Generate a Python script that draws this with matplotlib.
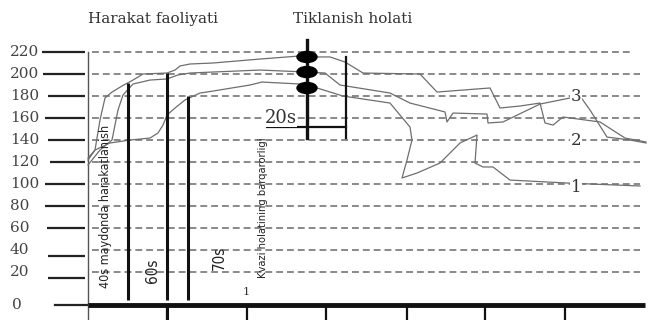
import matplotlib.pyplot as plt
from matplotlib.patches import Ellipse
from matplotlib import font_manager

# y axis levels (values), tick labels on the left
levels = [220, 200, 180, 160, 140, 120, 100, 80, 60, 40, 20]
level_labels = ["220", "200", "180", "160", "140", "120", "100", "80", "60", "40", "20"]
tick_line_vals = [220, 200, 180, 160, 140, 120, 100, 80, 60, 34.5, 14.5]
tick_line_start = [42, 43, 48, 45, 48, 50, 45, 45, 47, 48, 48]
zero_val = -10

# time axis ticks under the baseline
time_ticks = [167, 247, 326, 407, 485, 565]

# three recovery curves (x in time units, y in values)
c1_x = [88, 95, 100, 105, 112, 122, 133, 143, 167, 175, 180, 190, 213, 260, 300, 307, 330, 345, 363,
        420, 437, 490, 500, 520, 540, 545, 553, 563, 600, 625, 646]
c1_y = [121.8, 130.9, 158.2, 178.2, 183.6, 189.1, 194.5, 200, 200.9, 203.6, 207.3, 209.1, 210, 213.6,
        216.4, 215.5, 215.5, 210.9, 200.9, 200, 183.6, 187.3, 169.1, 170.9, 173.6, 155.5, 153.6, 160.9,
        156.4, 141.8, 138.2]

c2_x = [88, 100, 112, 118, 123, 133, 150, 167, 178, 190, 213, 260, 307, 325, 340, 390, 410, 445, 447,
        453, 487, 488, 503, 540, 580, 590, 607, 630, 646]
c2_y = [117.3, 130.9, 140, 167.3, 180.9, 190.9, 194.5, 195.5, 199.1, 200.9, 201.8, 203.6, 201.8, 200.9,
        190, 182.7, 173.6, 165.5, 156.4, 164.5, 163.6, 155.5, 156.4, 172.7, 180, 167.3, 142.7, 140, 137.3]

c3_x = [88, 95, 110, 130, 150, 158, 163, 167, 175, 185, 200, 213, 250, 262, 300, 307, 317, 343, 390,
        400, 410, 412, 407, 402, 417, 440, 460, 477, 475, 483, 493, 510, 567, 640]
c3_y = [123.6, 130.9, 137.3, 140, 141.8, 146.4, 153.6, 162.7, 169.1, 176.4, 182.7, 184.5, 190, 192.7,
        190.9, 187.3, 187.3, 180, 173.6, 162.7, 151.8, 140, 121.8, 105.5, 110, 119.1, 137.3, 144.5,
        119.1, 115.5, 115.5, 103.6, 100.9, 98.2]

curve_labels = ["1", "2", "3"]
curve_label_vals = [97, 140, 180]

# phase bars (x, top value)
bars_x = [128, 167, 188]
bars_top = [191.8, 200.9, 180]
dots_vals = [215.5, 201.8, 187.3]

fig = plt.figure(figsize=(6.48, 3.20), dpi=100)
ax = fig.add_axes([0, 0, 1, 1])
ax.set_xlim(0, 648)
ax.set_ylim(-23.6, 267.27)
ax.axis("off")

serif = "DejaVu Serif"
# condensed sans for the rotated notes
cond = font_manager.FontProperties(family="DejaVu Sans", stretch="condensed")

# dashed levels
for v in levels:
    x_end = 632 if v == 220 else 640
    ax.plot([92, x_end], [v, v], color="#808080", lw=1.3, ls=(0, (3.8, 2.2)), zorder=1)

# left scale
for v, lab, tv, xs in zip(levels, level_labels, tick_line_vals, tick_line_start):
    ax.text(10, v, lab, family=serif, fontsize=11, color="#444", ha="left", va="center")
    ax.plot([xs, 85], [tv, tv], color="#222", lw=1.6, solid_capstyle="butt")
ax.text(12, zero_val, "0", family=serif, fontsize=11, color="#444", ha="left", va="center")
ax.plot([55, 88], [zero_val, zero_val], color="#222", lw=1.6)

# axes frame
ax.plot([88, 88], [220, -23.6], color="#555", lw=1.0)
ax.plot([88, 645], [zero_val, zero_val], color="#111", lw=3.5, solid_capstyle="butt", zorder=4)
for t in time_ticks:
    ax.plot([t, t], [zero_val, -23.6], color="#111", lw=1.6)
ax.text(246, -3, "1", family=serif, fontsize=8, color="#333", ha="center", va="bottom")

# curves
for cx, cy in [(c1_x, c1_y), (c2_x, c2_y), (c3_x, c3_y)]:
    ax.plot(cx, cy, color="#6e6e6e", lw=0.9, zorder=2)

for lab, v in zip(curve_labels, curve_label_vals):
    ax.text(576, v, lab, family=serif, fontsize=12, color="#333", ha="center", va="center",
            bbox=dict(facecolor="white", edgecolor="none", pad=0.5), zorder=3)

# phase bars
for bx, bt in zip(bars_x, bars_top):
    ax.plot([bx, bx], [bt, -5.5], color="#111", lw=2.2, solid_capstyle="butt", zorder=3)
ax.plot([167, 167], [zero_val, -23.6], color="#111", lw=2.2, zorder=3)

# recovery marker
ax.plot([307, 307], [230.9, 141.8], color="#111", lw=2.4, zorder=3)
for dv in dots_vals:
    ax.add_patch(Ellipse((307, dv), 20, 10, color="#000", zorder=4))
ax.plot([346, 346], [215.5, 141.8], color="#111", lw=1.6, zorder=3)
ax.plot([267, 346], [151.8, 151.8], color="#111", lw=1.6, zorder=3)
ax.text(281, 160, "20s", family=serif, fontsize=13, color="#333", ha="center", va="center",
        bbox=dict(facecolor="white", edgecolor="none", pad=0.3), zorder=3)

# headers
ax.text(88, 250, "Harakat faoliyati", family=serif, fontsize=11, color="#333", ha="left", va="center")
ax.text(293, 250, "Tiklanish holati", family=serif, fontsize=11, color="#333", ha="left", va="center")

# rotated phase notes
ax.text(106, 5.45, "40s maydonda harakatlanish", fontproperties=cond, fontsize=9, rotation=90,
        ha="center", va="bottom", color="#222")
ax.text(153, 20.9, "60s", fontproperties=cond, fontsize=11, rotation=90, ha="center", va="center", color="#222")
ax.text(219, 32.7, "70s", fontproperties=cond, fontsize=11, rotation=90, ha="center", va="center", color="#222")
ax.text(263, 14.5, "Kvazi holatining barqarorligi", fontproperties=cond, fontsize=8, rotation=90,
        ha="center", va="bottom", color="#222")

fig.savefig("out.png", dpi=100)
